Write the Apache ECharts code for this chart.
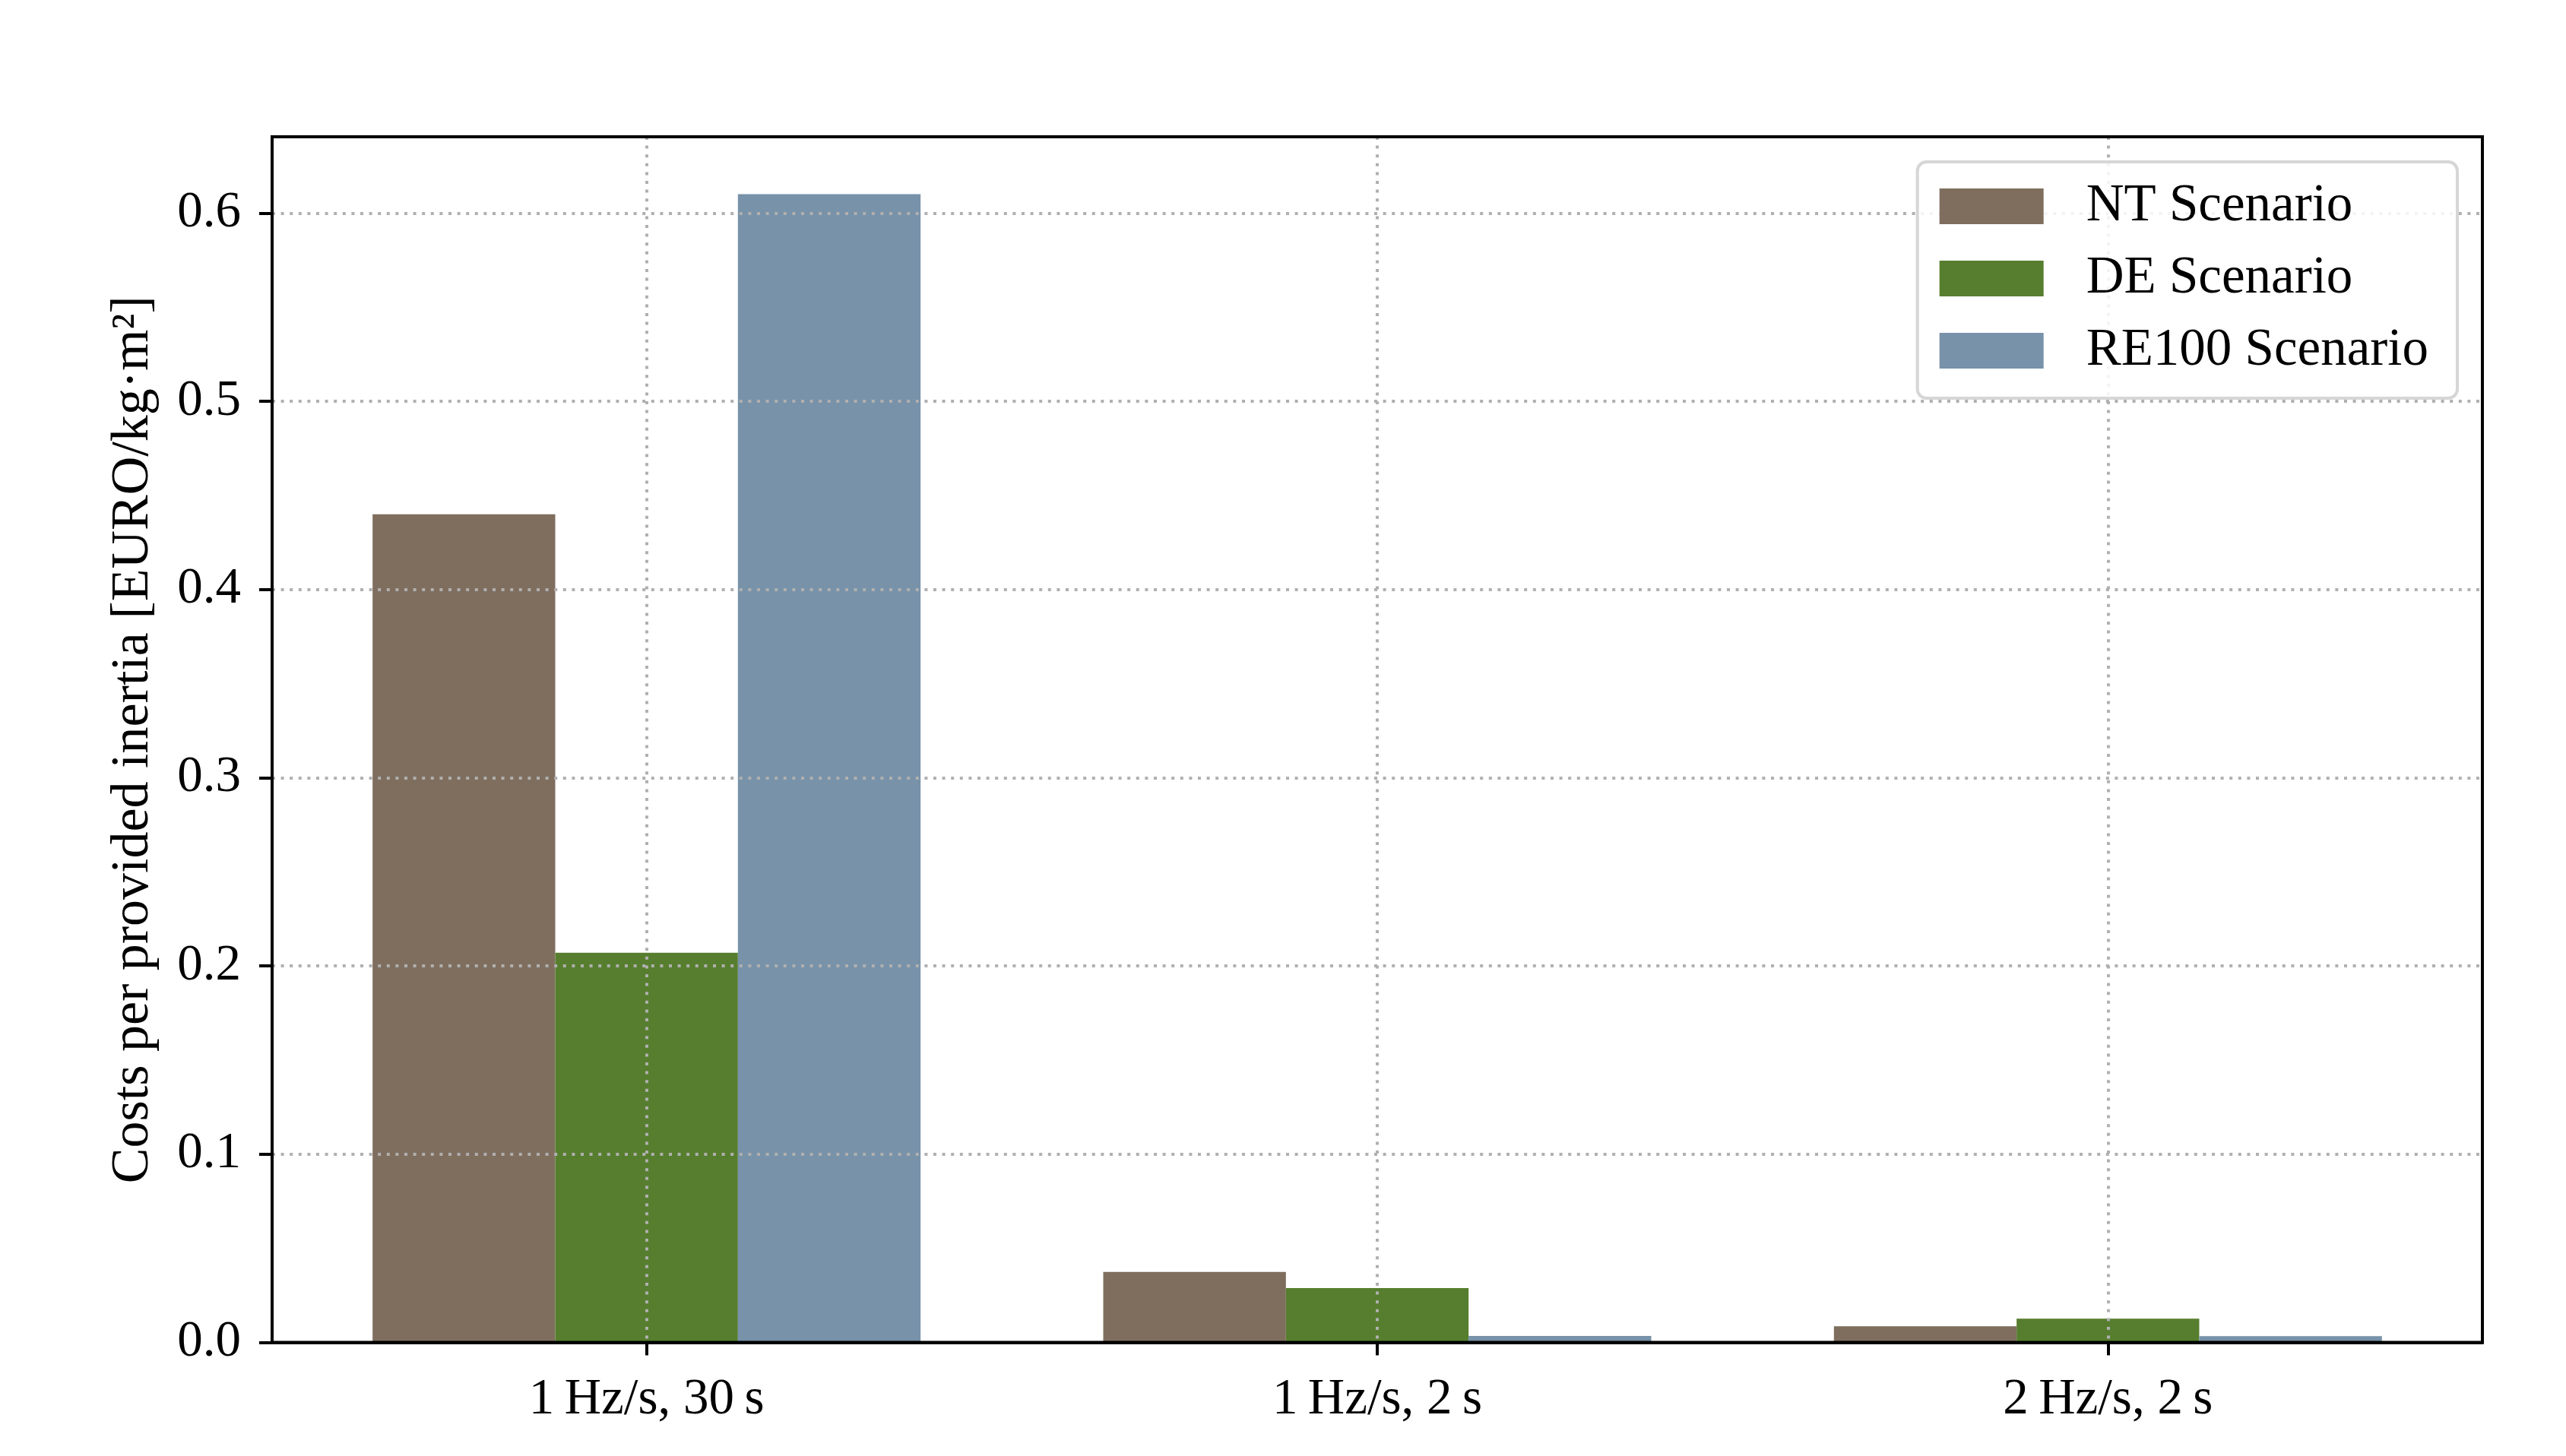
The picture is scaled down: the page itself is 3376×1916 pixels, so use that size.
<!DOCTYPE html>
<html>
<head>
<meta charset="utf-8">
<style>
  html, body { margin: 0; padding: 0; background: #ffffff; }
  #chart { width: 3376px; height: 1916px; }
</style>
<script src="https://cdn.jsdelivr.net/npm/echarts@6/dist/echarts.min.js"></script>
</head>
<body>
<div id="chart"></div>
<script>
// ---- data ----
const categories = ['1\u2009Hz/s, 30\u2009s', '1\u2009Hz/s, 2\u2009s', '2\u2009Hz/s, 2\u2009s'];
const categoryPositions = [0, 1, 2];
const seriesNames = ['NT Scenario', 'DE Scenario', 'RE100 Scenario'];
const ntValues = [0.44, 0.0374, 0.0086];
const deValues = [0.207, 0.0289, 0.0126];
const re100Values = [0.61, 0.0034, 0.0033];
const yTicks = [0.0, 0.1, 0.2, 0.3, 0.4, 0.5, 0.6];
const yAxisTitle = 'Costs per provided inertia [EURO/kg\u00b7m\u00b2]';

// ---- styles ----
const FONT = 'Liberation Serif';
const colors = ['#7f6e5e', '#567e2e', '#7792a9'];
const gridColor = '#b0b0b0';

function pairs(vals) { return categoryPositions.map((x, i) => [x, vals[i]]); }

const chart = echarts.init(document.getElementById('chart'), null, { renderer: 'canvas' });

const seriesData = [ntValues, deValues, re100Values];

chart.setOption({
  backgroundColor: '#ffffff',
  animation: false,
  textStyle: { fontFamily: FONT, color: '#000' },
  grid: {
    left: 358, right: 110, top: 180, bottom: 149.5,
    show: true, borderColor: '#000', borderWidth: 4, backgroundColor: 'transparent',
    containLabel: false, z: 10
  },
  legend: {
    right: 143, top: 213,
    orient: 'vertical',
    itemWidth: 137, itemHeight: 47, itemGap: 26,
    padding: [24, 38, 28, 29],
    backgroundColor: 'rgba(255,255,255,0.85)',
    borderColor: '#d6d6d6', borderWidth: 4, borderRadius: 12,
    icon: 'rect',
    z: 20,
    textStyle: { fontFamily: FONT, fontSize: 69, color: '#000', padding: [0, 0, 0, 51], lineHeight: 47 },
    data: seriesNames
  },
  xAxis: {
    type: 'value',
    min: -0.5125, max: 2.5125,
    z: 5,
    axisLine: { show: true, onZero: false, lineStyle: { color: '#000', width: 4 } },
    axisTick: { show: true, customValues: categoryPositions, length: 17, lineStyle: { color: '#000', width: 4 } },
    axisLabel: {
      customValues: categoryPositions,
      fontFamily: FONT, fontSize: 67, color: '#000', margin: 42,
      formatter: (v) => { const i = categoryPositions.indexOf(Math.round(v)); return i >= 0 ? categories[i] : ''; }
    },
    splitLine: { show: true, lineStyle: { color: gridColor, width: 4, type: [4, 7.6] } }
  },
  yAxis: {
    type: 'value',
    min: 0, max: 0.6405,
    z: 5,
    name: yAxisTitle,
    nameLocation: 'middle',
    nameGap: 147,
    nameTextStyle: { fontFamily: FONT, fontSize: 70, color: '#000' },
    axisLine: { show: true, onZero: false, lineStyle: { color: '#000', width: 4 } },
    axisTick: { show: true, customValues: yTicks, length: 17, lineStyle: { color: '#000', width: 4 } },
    axisLabel: {
      customValues: yTicks,
      fontFamily: FONT, fontSize: 67, color: '#000', margin: 41,
      formatter: (v) => v.toFixed(1)
    },
    splitLine: { show: true, lineStyle: { color: gridColor, width: 4, type: [4, 7.6] } }
  },
  series: seriesNames.map((name, i) => ({
    name: name,
    type: 'bar',
    data: pairs(seriesData[i]),
    barWidth: '25%',
    barGap: '0%',
    itemStyle: { color: colors[i] },
    z: 1
  }))
});
</script>
</body>
</html>
